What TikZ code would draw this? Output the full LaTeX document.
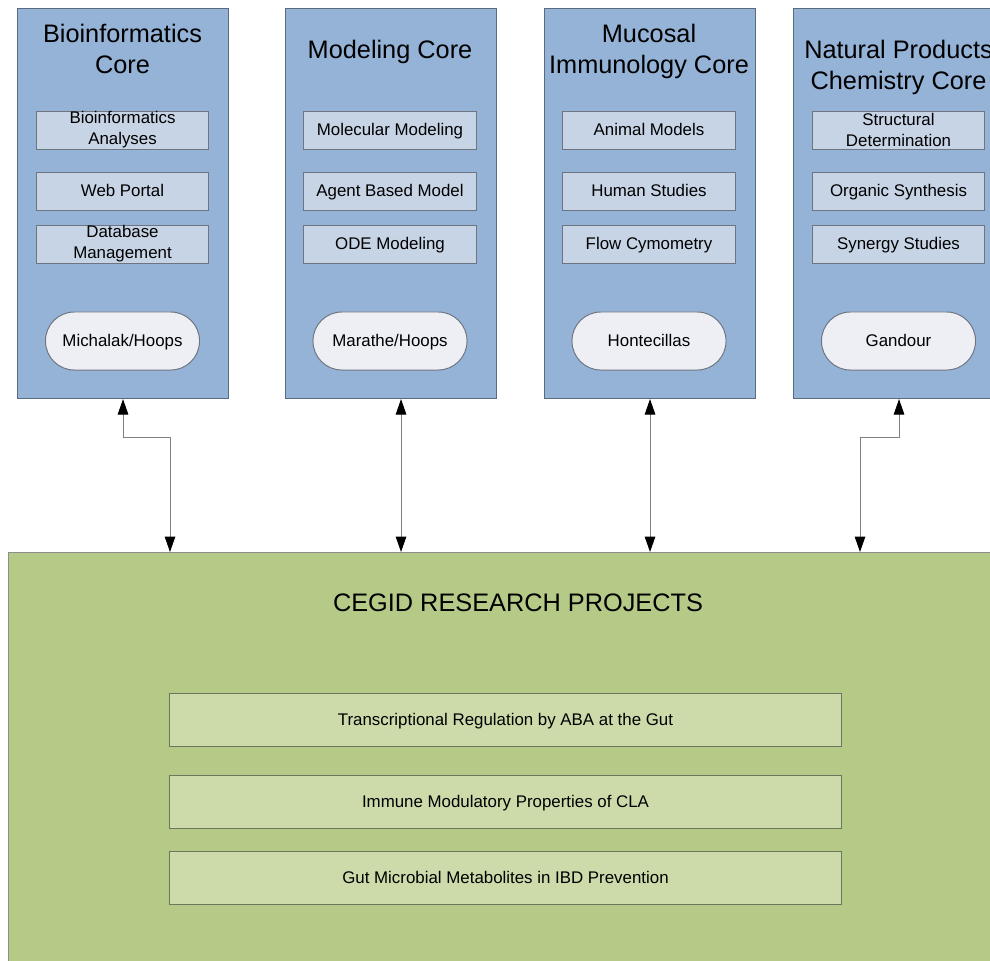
\documentclass[tikz,border=0pt]{standalone}
\usepackage{xcolor}
\usepackage{fontspec}
\setmainfont{Liberation Sans}
\usetikzlibrary{arrows.meta,positioning,calc}
\definecolor{coreblue}{HTML}{95B3D7}
\definecolor{coreedge}{HTML}{5A6B80}
\definecolor{taskblue}{HTML}{C7D4E6}
\definecolor{taskedge}{HTML}{6E7580}
\definecolor{leadfill}{HTML}{EDEFF5}
\definecolor{projgreen}{HTML}{B6CA88}
\definecolor{projedge}{HTML}{8E8E8E}
\definecolor{studygreen}{HTML}{CDDBAB}
\definecolor{studyedge}{HTML}{6D7561}
\definecolor{linkgray}{HTML}{808080}
\tikzset{
  core/.style={rectangle, draw=coreedge, fill=coreblue, line width=0.7pt, minimum width=5.275cm, minimum height=9.75cm, anchor=north west}, % one core column
  heading/.style={align=center, font=\fontsize{18}{22}\selectfont},
  task/.style={rectangle, draw=taskedge, fill=taskblue, line width=0.7pt, minimum width=4.3cm, minimum height=0.95cm, inner sep=0pt, text height=9pt, text depth=0.5pt, align=center, font=\fontsize{12}{15}\selectfont},
  twoline/.style={text height=, text depth=}, % two-line tasks keep their natural size
  lead/.style={rectangle, rounded corners=0.72cm, draw=taskedge, fill=leadfill, line width=0.7pt, minimum width=3.85cm, minimum height=1.45cm, text height=9pt, text depth=0.5pt, font=\fontsize{12}{15}\selectfont},
  study/.style={rectangle, draw=studyedge, fill=studygreen, line width=0.7pt, minimum width=16.775cm, minimum height=1.325cm, text height=9pt, text depth=0.5pt, font=\fontsize{12}{15}\selectfont},
  link/.style={draw=linkgray, line width=0.7pt, {Triangle[length=11pt,width=7.5pt,color=black]}-{Triangle[length=11pt,width=7.5pt,color=black]}}
}
\begin{document}
\begin{tikzpicture}[x=0.025cm, y=-0.025cm]
    \useasboundingbox (0,0) rectangle (990,960);

    % Cores
    \node[core] (bio) at (17,8) {};
    \node[core] (model) at (285,8) {};
    \node[core] (mucosal) at (544,8) {};
    \node[core] (natural) at (793,8) {};

    \node[heading] (bioTitle) at (122.5,48.5) {Bioinformatics\\Core};
    \node[heading] (modelTitle) at (390,52) {Modeling Core};
    \node[heading] (mucosalTitle) at (649,51) {Mucosal\\Immunology Core};
    \node[heading] (naturalTitle) at (898.5,67.5) {Natural Products\\Chemistry Core};

    % Tasks inside each core
    \node[task, twoline] (bioA) at (122.5,130) {Bioinformatics\\Analyses};
    \node[task, below=0.55cm of bioA] (bioB) {Web Portal};
    \node[task, twoline, below=0.35cm of bioB] (bioC) {Database\\Management};
    \node[lead] (bioLead) at (122.5,341) {Michalak/Hoops};

    \node[task] (modelA) at (390,130) {Molecular Modeling};
    \node[task, below=0.55cm of modelA] (modelB) {Agent Based Model};
    \node[task, below=0.35cm of modelB] (modelC) {ODE Modeling};
    \node[lead] (modelLead) at (390,341) {Marathe/Hoops};

    \node[task] (mucosalA) at (649,130) {Animal Models};
    \node[task, below=0.55cm of mucosalA] (mucosalB) {Human Studies};
    \node[task, below=0.35cm of mucosalB] (mucosalC) {Flow Cymometry};
    \node[lead] (mucosalLead) at (649,341) {Hontecillas};

    \node[task, twoline] (naturalA) at (898.5,130) {Structural\\Determination};
    \node[task, below=0.55cm of naturalA] (naturalB) {Organic Synthesis};
    \node[task, below=0.35cm of naturalB] (naturalC) {Synergy Studies};
    \node[lead] (naturalLead) at (898.5,341) {Gandour};

    % Research projects
    \node[rectangle, draw=projedge, fill=projgreen, line width=0.7pt, minimum width=25.5cm, minimum height=11.25cm, anchor=north west] (projects) at (8,552) {};
    \node[heading] (projTitle) at (518,603) {CEGID RESEARCH PROJECTS};
    \node[study] (studyABA) at (505.5,719.5) {Transcriptional Regulation by ABA at the Gut};
    \node[study, below=0.7cm of studyABA] (studyCLA) {Immune Modulatory Properties of CLA};
    \node[study, below=0.55cm of studyCLA] (studyIBD) {Gut Microbial Metabolites in IBD Prevention};

    % Links
    \coordinate (bendA) at (170,437);
    \coordinate (bendD) at (860,437);
    \draw[link] (bio.south) |- (bendA) -- (bendA |- projects.north);
    \draw[link] ([xshift=0.25cm]model.south) -- ([xshift=0.25cm]model.south |- projects.north);
    \draw[link] (mucosal.south) -- (mucosal.south |- projects.north);
    \draw[link] (natural.south) |- (bendD) -- (bendD |- projects.north);

\end{tikzpicture}
\end{document}
